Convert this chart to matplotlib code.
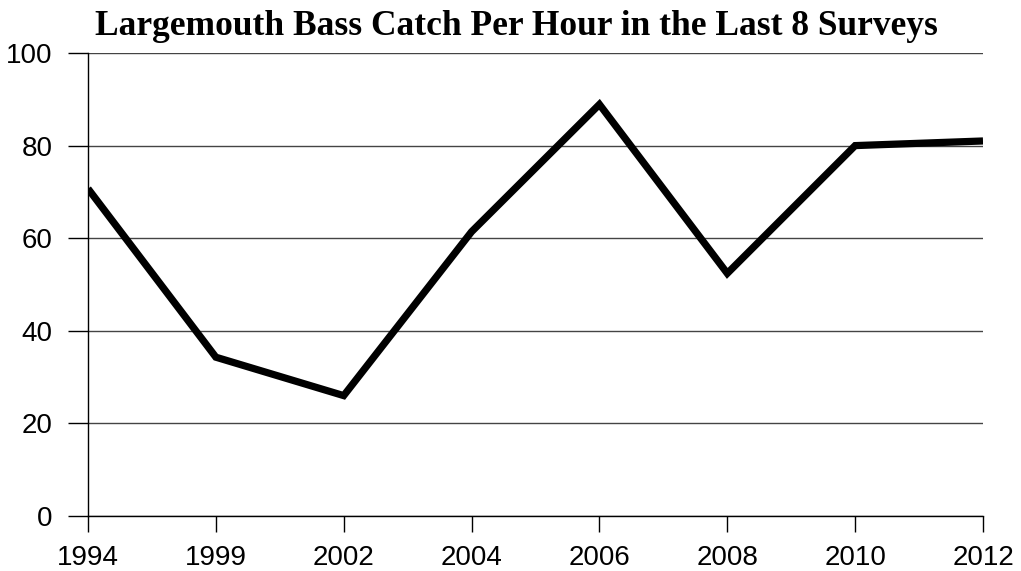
import matplotlib
matplotlib.use("Agg")
import matplotlib.pyplot as plt

# Survey years and catch per hour
years = ["1994", "1999", "2002", "2004", "2006", "2008", "2010", "2012"]
catch_per_hour = [70.7, 34.3, 26.0, 61.4, 88.9, 52.4, 80.0, 81.0]
y_ticks = [0, 20, 40, 60, 80, 100]

fig = plt.figure(figsize=(10.21, 5.71), dpi=100)
ax = fig.add_axes([88 / 1021, 1 - 516 / 571, (983 - 88) / 1021, (516 - 53) / 571])

x = list(range(len(years)))
ax.plot(x, catch_per_hour, color="black", lw=5.2, solid_joinstyle="miter",
        solid_capstyle="butt", zorder=3)

ax.set_xlim(0, len(years) - 1)
ax.set_ylim(0, 100)
ax.set_xticks(x)
ax.set_xticklabels(years)
ax.set_yticks(y_ticks)

for lab in ax.get_xticklabels() + ax.get_yticklabels():
    lab.set_fontfamily("Liberation Sans")
    lab.set_fontsize(20)

ax.grid(axis="y", color="#444444", lw=1)
ax.set_axisbelow(True)
for side in ["top", "right"]:
    ax.spines[side].set_visible(False)
for side in ["left", "bottom"]:
    ax.spines[side].set_linewidth(1)
    ax.spines[side].set_color("black")
ax.tick_params(axis="y", length=14.4, width=1, pad=11)
ax.tick_params(axis="x", length=11.5, width=1, pad=9.5)

fig.text(516 / 1021, 1 - 35 / 571, "Largemouth Bass Catch Per Hour in the Last 8 Surveys",
         ha="center", va="baseline", fontsize=25.5, fontweight="bold",
         family="Liberation Serif")

fig.savefig("out.png", dpi=100)
